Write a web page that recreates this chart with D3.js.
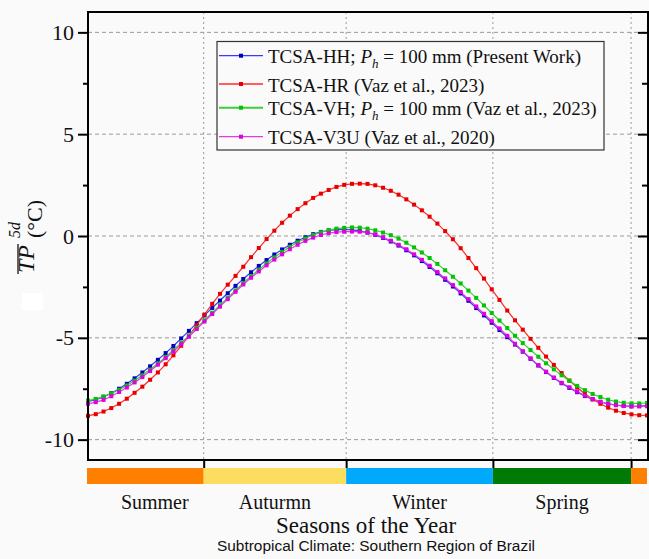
<!DOCTYPE html>
<html>
<head>
<meta charset="utf-8">
<script src="https://cdn.jsdelivr.net/npm/d3@7"></script>
<style>
  html, body { margin: 0; padding: 0; background: #fafafa; }
  svg { display: block; }
</style>
</head>
<body>
<svg id="chart" width="649" height="559"></svg>
<script>
// 5-day periods of the year (1..73)
const periods = d3.range(1, 74);

// 5-day mean values (°C) for each configuration
const seriesHH = [-8.12, -8.04, -7.90, -7.72, -7.50, -7.26, -6.99, -6.70, -6.40, -6.08,
  -5.75, -5.40, -5.03, -4.66, -4.28, -3.90, -3.53, -3.17, -2.81, -2.45,
  -2.11, -1.78, -1.47, -1.18, -0.91, -0.66, -0.43, -0.23, -0.06, 0.09,
  0.20, 0.27, 0.31, 0.32, 0.30, 0.25, 0.17, 0.06, -0.09, -0.27,
  -0.47, -0.70, -0.95, -1.23, -1.52, -1.83, -2.15, -2.48, -2.82, -3.18,
  -3.54, -3.90, -4.26, -4.62, -4.97, -5.33, -5.68, -6.03, -6.36, -6.68,
  -6.97, -7.23, -7.46, -7.67, -7.86, -8.02, -8.15, -8.24, -8.30, -8.34,
  -8.36, -8.35, -8.33];
const seriesHR = [-8.83, -8.75, -8.62, -8.45, -8.24, -7.99, -7.70, -7.40, -7.06, -6.70,
  -6.30, -5.86, -5.39, -4.90, -4.38, -3.86, -3.33, -2.84, -2.39, -1.96,
  -1.51, -1.04, -0.59, -0.15, 0.26, 0.65, 1.00, 1.32, 1.61, 1.87,
  2.08, 2.26, 2.41, 2.51, 2.56, 2.57, 2.56, 2.49, 2.37, 2.22,
  2.03, 1.80, 1.54, 1.26, 0.95, 0.61, 0.24, -0.16, -0.60, -1.08,
  -1.58, -2.09, -2.62, -3.14, -3.66, -4.14, -4.60, -5.05, -5.49, -5.92,
  -6.33, -6.73, -7.10, -7.44, -7.75, -8.02, -8.24, -8.43, -8.58, -8.69,
  -8.76, -8.80, -8.81];
const seriesVH = [-8.08, -8.00, -7.88, -7.73, -7.55, -7.34, -7.10, -6.84, -6.56, -6.26,
  -5.94, -5.60, -5.25, -4.89, -4.51, -4.14, -3.77, -3.40, -3.03, -2.67,
  -2.31, -1.97, -1.65, -1.34, -1.05, -0.78, -0.53, -0.31, -0.12, 0.05,
  0.18, 0.29, 0.36, 0.40, 0.42, 0.41, 0.36, 0.28, 0.17, 0.04,
  -0.13, -0.33, -0.56, -0.81, -1.08, -1.37, -1.68, -2.00, -2.33, -2.68,
  -3.04, -3.41, -3.78, -4.15, -4.52, -4.90, -5.26, -5.60, -5.93, -6.25,
  -6.55, -6.84, -7.11, -7.36, -7.57, -7.76, -7.91, -8.04, -8.13, -8.19,
  -8.22, -8.22, -8.20];
const seriesV3U = [-8.24, -8.16, -8.05, -7.87, -7.66, -7.44, -7.19, -6.93, -6.63, -6.32,
  -6.00, -5.67, -5.32, -4.95, -4.57, -4.20, -3.83, -3.47, -3.10, -2.74,
  -2.38, -2.05, -1.74, -1.44, -1.16, -0.90, -0.65, -0.43, -0.24, -0.08,
  0.05, 0.14, 0.19, 0.21, 0.22, 0.21, 0.17, 0.08, -0.06, -0.23,
  -0.43, -0.65, -0.90, -1.17, -1.46, -1.77, -2.08, -2.41, -2.75, -3.10,
  -3.46, -3.82, -4.18, -4.54, -4.90, -5.29, -5.66, -6.01, -6.34, -6.66,
  -6.95, -7.21, -7.43, -7.64, -7.84, -8.00, -8.14, -8.24, -8.31, -8.35,
  -8.37, -8.37, -8.36];

// Axis ticks
const yMajorTicks = [-10, -5, 0, 5, 10];
const yMinorTicks = [-7.5, -2.5, 2.5, 7.5];

// Seasons (southern hemisphere) on the period axis
const seasonNames = ["Summer", "Auturmn", "Winter", "Spring"];
const seasonBreaks = [15.9, 34.25, 53.15, 70.95];
const seasonLabelPos = [9.6, 25.07, 43.7, 62.05];
const seasonBandStarts = [1, 15.9, 34.25, 53.15, 70.95];
const seasonBandEnds = [15.9, 34.25, 53.15, 70.95, 73];
const seasonBandColors = ["#ff8000", "#fcdd60", "#00a9fa", "#007a05", "#ff8000"];

const seriesDefs = [
  { values: seriesHH, line: "#3a3aff", marker: "#0000c0", width: 1.2 },
  { values: seriesHR, line: "#ff2a2a", marker: "#e80000", width: 1.2 },
  { values: seriesVH, line: "#3ccc3c", marker: "#00c400", width: 1.2 },
  { values: seriesV3U, line: "#e23ae2", marker: "#e000e0", width: 1.2 }
];

const SERIF = '"Liberation Serif", "Times New Roman", serif';
const SANS = '"Liberation Sans", Arial, sans-serif';

const svg = d3.select("#chart");
const plotL = 88, plotR = 647, plotT = 12, plotB = 460;

const x = d3.scaleLinear().domain([1, 73]).range([plotL, plotR]);
const y = d3.scaleLinear().domain([-11, 11]).range([plotB, plotT]);

// Gridlines
svg.append("g").selectAll("line").data(yMajorTicks).join("line")
  .attr("x1", plotL).attr("x2", plotR + 1)
  .attr("y1", d => y(d)).attr("y2", d => y(d))
  .attr("stroke", "#9a9a9a").attr("stroke-width", 1).attr("stroke-dasharray", "4,3");
svg.append("g").selectAll("line").data(seasonBreaks).join("line")
  .attr("x1", d => x(d)).attr("x2", d => x(d))
  .attr("y1", plotT).attr("y2", plotB)
  .attr("stroke", "#9a9a9a").attr("stroke-width", 1).attr("stroke-dasharray", "2,3");

// Series lines and markers
const line = d3.line().x((d, i) => x(periods[i])).y(d => y(d));
seriesDefs.forEach(s => {
  svg.append("path").datum(s.values)
    .attr("d", line).attr("fill", "none")
    .attr("stroke", s.line).attr("stroke-width", s.width);
  svg.append("g").selectAll("rect").data(s.values).join("rect")
    .attr("x", (d, i) => x(periods[i]) - 2).attr("y", d => y(d) - 2)
    .attr("width", 4).attr("height", 4).attr("fill", s.marker);
});

// Axes
const yFmt = d => (d < 0 ? "-" + (-d) : String(d));
const gl = svg.append("g").attr("transform", `translate(${plotL},0)`)
  .call(d3.axisLeft(y).tickValues(yMajorTicks).tickSize(10).tickPadding(4).tickFormat(yFmt));
const glm = svg.append("g").attr("transform", `translate(${plotL},0)`)
  .call(d3.axisLeft(y).tickValues(yMinorTicks).tickSize(5).tickFormat(""));
const gr = svg.append("g").attr("transform", `translate(${plotR + 1},0)`)
  .call(d3.axisRight(y).tickValues(yMajorTicks).tickSize(-10).tickFormat(""));
const grm = svg.append("g").attr("transform", `translate(${plotR + 1},0)`)
  .call(d3.axisRight(y).tickValues(yMinorTicks).tickSize(-6).tickFormat(""));
const gb = svg.append("g").attr("transform", `translate(0,${plotB})`)
  .call(d3.axisBottom(x).tickValues(seasonBreaks).tickSize(8).tickFormat(""));
[gl, glm, gr, grm, gb].forEach(g => {
  g.attr("font-family", null);
  g.select(".domain").remove();
  g.selectAll(".tick line").attr("stroke", "#000").attr("stroke-width", 2);
});
gl.selectAll(".tick text")
  .style("font-family", SERIF).style("font-size", "22px").attr("fill", "#111");

// Plot frame
svg.append("rect").attr("x", plotL).attr("y", plotT)
  .attr("width", plotR + 1 - plotL).attr("height", plotB - plotT)
  .attr("fill", "none").attr("stroke", "#000").attr("stroke-width", 2);

// Season colour band
svg.append("g").selectAll("rect").data(seasonBandStarts).join("rect")
  .attr("x", (d, i) => x(d) - (i === 0 ? 1 : 0))
  .attr("y", 468).attr("height", 16)
  .attr("width", (d, i) => x(seasonBandEnds[i]) - x(d) + (i === 0 ? 1 : 0))
  .attr("fill", (d, i) => seasonBandColors[i]);

// Season names
svg.append("g").selectAll("text").data(seasonNames).join("text")
  .attr("x", (d, i) => x(seasonLabelPos[i])).attr("y", 508.5)
  .attr("text-anchor", "middle").attr("fill", "#111")
  .style("font-family", SERIF).style("font-size", "20px")
  .text(d => d);

// Axis titles
svg.append("text").attr("x", 366).attr("y", 533)
  .attr("text-anchor", "middle").attr("fill", "#111")
  .style("font-family", SERIF).style("font-size", "23px")
  .text("Seasons of the Year");
svg.append("text").attr("x", 376).attr("y", 551)
  .attr("text-anchor", "middle").attr("fill", "#111")
  .style("font-family", SANS).style("font-size", "14px")
  .attr("textLength", 318).attr("lengthAdjust", "spacingAndGlyphs")
  .text("Subtropical Climate: Southern Region of Brazil");

// Y-axis title: overlined TP with 5d superscript, then (°C)
svg.append("rect").attr("x", 22).attr("y", 293).attr("width", 21).attr("height", 17).attr("fill", "#ffffff");
const yt = svg.append("g").attr("transform", "rotate(-90)");
yt.append("text").attr("x", -273).attr("y", 34).attr("fill", "#111")
  .style("font-family", SERIF).style("font-size", "24px").style("font-style", "italic").text("TP");
yt.append("line").attr("x1", -274).attr("x2", -244).attr("y1", 18).attr("y2", 18)
  .attr("stroke", "#111").attr("stroke-width", 1.3);
yt.append("text").attr("x", -238).attr("y", 20).attr("fill", "#111")
  .style("font-family", SERIF).style("font-size", "16px").style("font-style", "italic").text("5d");
yt.append("text").attr("x", -238).attr("y", 42).attr("fill", "#111")
  .style("font-family", SERIF).style("font-size", "22px").text("(°C)");

// Legend
const legendLabels = [
  [["TCSA-HH; ", ""], ["P", "i"], ["h", "sub"], [" = 100 mm (Present Work)", ""]],
  [["TCSA-HR (Vaz et al., 2023)", ""]],
  [["TCSA-VH; ", ""], ["P", "i"], ["h", "sub"], [" = 100 mm (Vaz et al., 2023)", ""]],
  [["TCSA-V3U (Vaz et al., 2020)", ""]]
];
const legendRowY = [55.7, 84, 107.7, 136.7];
const lg = svg.append("g");
lg.append("rect").attr("x", 217).attr("y", 41.5).attr("width", 387).attr("height", 108.5)
  .attr("fill", "#fafafa").attr("stroke", "#333").attr("stroke-width", 1.2);
seriesDefs.forEach((s, i) => {
  const ry = legendRowY[i];
  lg.append("line").attr("x1", 219).attr("x2", 263).attr("y1", ry).attr("y2", ry)
    .attr("stroke", s.line).attr("stroke-width", i === 2 ? 2 : 1.3);
  lg.append("rect").attr("x", 239).attr("y", ry - 2).attr("width", 4).attr("height", 4)
    .attr("fill", s.marker);
  const t = lg.append("text").attr("x", 268).attr("y", ry + 7.5).attr("fill", "#111")
    .style("font-family", SERIF).style("font-size", "19px");
  legendLabels[i].forEach(([str, kind]) => {
    const ts = t.append("tspan").text(str);
    if (kind === "i") ts.style("font-style", "italic");
    if (kind === "sub") ts.style("font-style", "italic").style("font-size", "13px").attr("dy", 5);
    if (kind === "" && str.startsWith(" =")) ts.attr("dy", -5);
  });
});
</script>
</body>
</html>
